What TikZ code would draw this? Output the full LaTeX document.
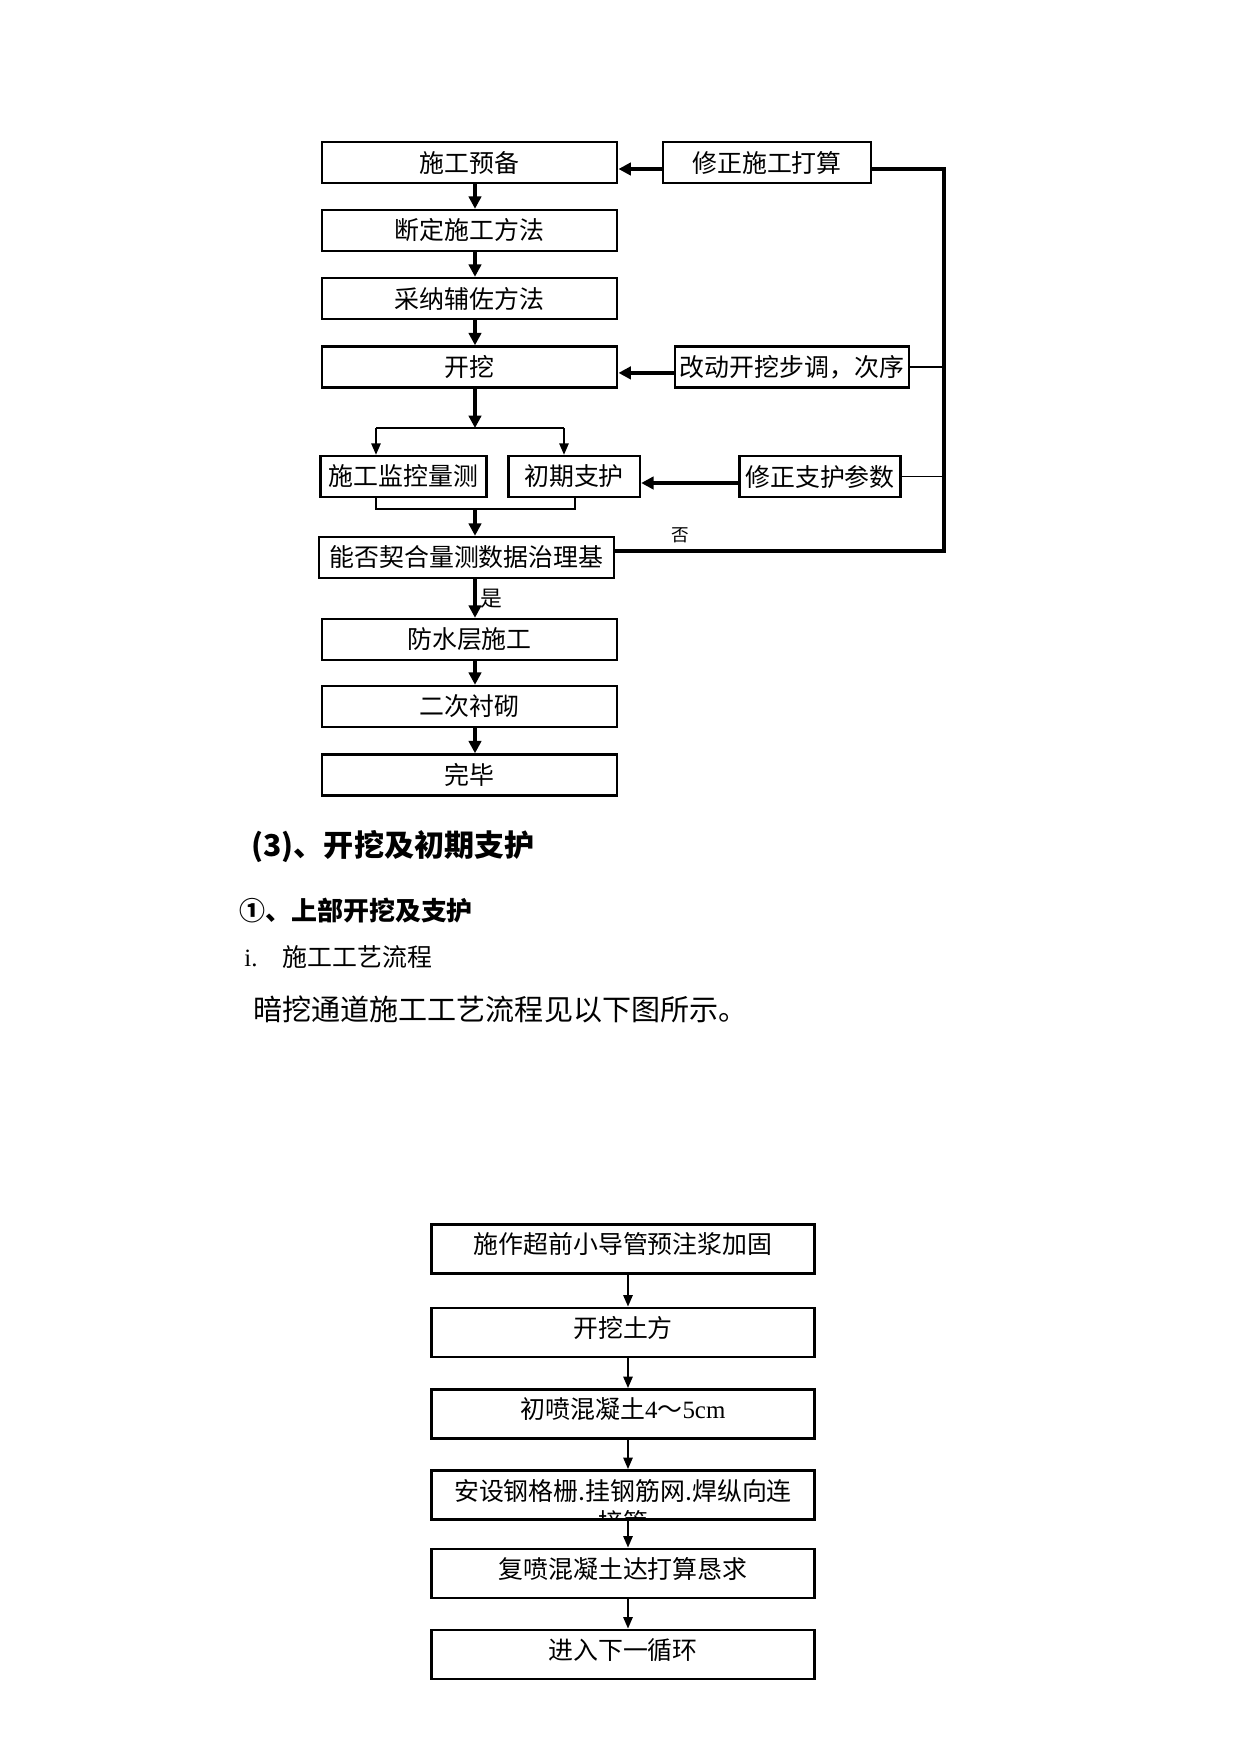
\documentclass[tikz,border=0pt]{standalone}
\usepackage{fontspec}
\setmainfont{Noto Sans CJK SC}
\newfontfamily\latinfont{Liberation Serif}
\usetikzlibrary{arrows.meta, positioning}

\begin{document}
\begin{tikzpicture}[
            x=0.16933mm, y=-0.16933mm,
            box/.style={draw, line width=1.3pt, minimum height=6.9mm, inner sep=1pt, font=\fontsize{12}{14}\selectfont},
            lowbox/.style={draw, line width=1.4pt, minimum width=65mm, minimum height=8.3mm, inner sep=1pt, text depth=2mm, font=\fontsize{12}{14}\selectfont},
            arrow/.style={-{Triangle[length=6pt,width=6pt]}, line width=1.6pt},
            thinarrow/.style={-{Triangle[length=5.5pt,width=4.5pt]}, line width=0.8pt},
            link/.style={line width=1.5pt},
            thinlink/.style={line width=0.9pt},
            plain/.style={anchor=west, inner sep=0pt}
        ]
            \useasboundingbox (0,0) rectangle (1241,1754);

            \node[box, minimum width=50mm] (prep) at (469.5,162.5) {施工预备};
            \node[box, minimum width=50mm] (method) at (469.5,230.5) {断定施工方法};
            \node[box, minimum width=50mm] (aux) at (469.5,298.5) {采纳辅佐方法};
            \node[box, minimum width=50mm] (dig) at (469.5,367) {开挖};
            \node[box, minimum width=35.2mm] (fixplan) at (767,162.5) {修正施工打算};
            \node[box, minimum width=39.6mm] (fixstep) at (792,367) {改动开挖步调，次序};
            \node[box, minimum width=28mm] (monitor) at (403.5,476.5) {施工监控量测};
            \node[box, minimum width=22.3mm] (support) at (574,476.5) {初期支护};
            \node[box, minimum width=27.3mm] (fixsup) at (820,476.5) {修正支护参数};
            \node[box, minimum width=50mm] (check) at (466.5,557.5) {能否契合量测数据治理基};
            \node[box, minimum width=50mm] (water) at (469.5,639.5) {防水层施工};
            \node[box, minimum width=50mm] (lining) at (469.5,706.5) {二次衬砌};
            \node[box, minimum width=50mm] (done) at (469.5,775) {完毕};

            \coordinate (spine) at (475,0);
            \coordinate (loop) at (944,0);
            \coordinate (splitL) at (376,428);
            \coordinate (splitR) at (564,428);
            \coordinate (split) at (475,428);
            \coordinate (mergeL) at (376,509);
            \coordinate (mergeR) at (575,509);
            \coordinate (merge) at (475,509);
            \coordinate (planout) at ([yshift=-1.1mm]fixplan.east);
            \coordinate (noout) at ([yshift=1.1mm]check.east);

            \draw[arrow] (prep.south -| spine) -- (method.north -| spine);
            \draw[arrow] (method.south -| spine) -- (aux.north -| spine);
            \draw[arrow] (aux.south -| spine) -- (dig.north -| spine);
            \draw[arrow] (dig.south -| spine) -- (split);
            \draw[thinlink] (splitL) -- (splitR);
            \draw[thinarrow] (splitL) -- (splitL |- monitor.north);
            \draw[thinarrow] (splitR) -- (splitR |- support.north);
            \draw[thinlink] (mergeL |- monitor.south) -- (mergeL) -- (mergeR) -- (mergeR |- support.south);
            \draw[arrow] (merge) -- (merge |- check.north);
            \draw[arrow] (check.south -| spine) -- (water.north -| spine)
                node[midway, right=2pt, inner sep=0pt, font=\fontsize{10.5}{12}\selectfont] (yes) {是};
            \draw[arrow] (water.south -| spine) -- (lining.north -| spine);
            \draw[arrow] (lining.south -| spine) -- (done.north -| spine);

            \draw[arrow] ([yshift=-1.1mm]fixplan.west) -- ([yshift=-1.1mm]prep.east);
            \draw[arrow] ([yshift=-1mm]fixstep.west) -- ([yshift=-1mm]dig.east);
            \draw[arrow] ([yshift=-1.1mm]fixsup.west) -- ([yshift=-1.1mm]support.east);

            \draw[link] (planout) -- (planout -| loop) -- (noout -| loop) -- (noout);
            \draw[thinlink] (fixstep.east) -- (fixstep.east -| loop);
            \draw[thinlink] (fixsup.east) -- (fixsup.east -| loop);
            \node[font=\fontsize{8.5}{10}\selectfont] (no) at (680,535) {否};

            \node[plain, font=\fontsize{14.5}{17}\selectfont\bfseries] (sec) at (251,847) {(3)、开挖及初期支护};
            \node[plain, font=\fontsize{12.5}{15}\selectfont\bfseries] (subsec) at (239,911) {①、上部开挖及支护};
            \node[plain, font=\fontsize{12}{14}\selectfont] (item) at (244,957) {{\latinfont i.}\hspace{12pt}施工工艺流程};
            \node[plain, font=\fontsize{14}{17}\selectfont] (intro) at (253,1009) {暗挖通道施工工艺流程见以下图所示。};

            \node[lowbox] (grout) at (623,1249) {施作超前小导管预注浆加固};
            \node[lowbox] (earth) at (623,1332.5) {开挖土方};
            \node[lowbox] (shot1) at (623,1414) {初喷混凝土{\latinfont 4}～{\latinfont 5cm}};
            \node[lowbox] (steel) at (623,1495) {};
            \node[lowbox] (shot2) at (623,1573.5) {复喷混凝土达打算恳求};
            \node[lowbox] (next) at (623,1654.5) {进入下一循环};
            \begin{scope}
                \clip (steel.north west) rectangle (steel.south east);
                \node[anchor=north, align=center, inner sep=0pt, font=\fontsize{12}{15}\selectfont] (steeltext) at (623,1479) {安设钢格栅.挂钢筋网.焊纵向连\\接管};
            \end{scope}

            \coordinate (lowspine) at (628,0);
            \draw[thinarrow] (grout.south -| lowspine) -- (earth.north -| lowspine);
            \draw[thinarrow] (earth.south -| lowspine) -- (shot1.north -| lowspine);
            \draw[thinarrow] (shot1.south -| lowspine) -- (steel.north -| lowspine);
            \draw[thinarrow] (steel.south -| lowspine) -- (shot2.north -| lowspine);
            \draw[thinarrow] (shot2.south -| lowspine) -- (next.north -| lowspine);
        \end{tikzpicture}
\end{document}
